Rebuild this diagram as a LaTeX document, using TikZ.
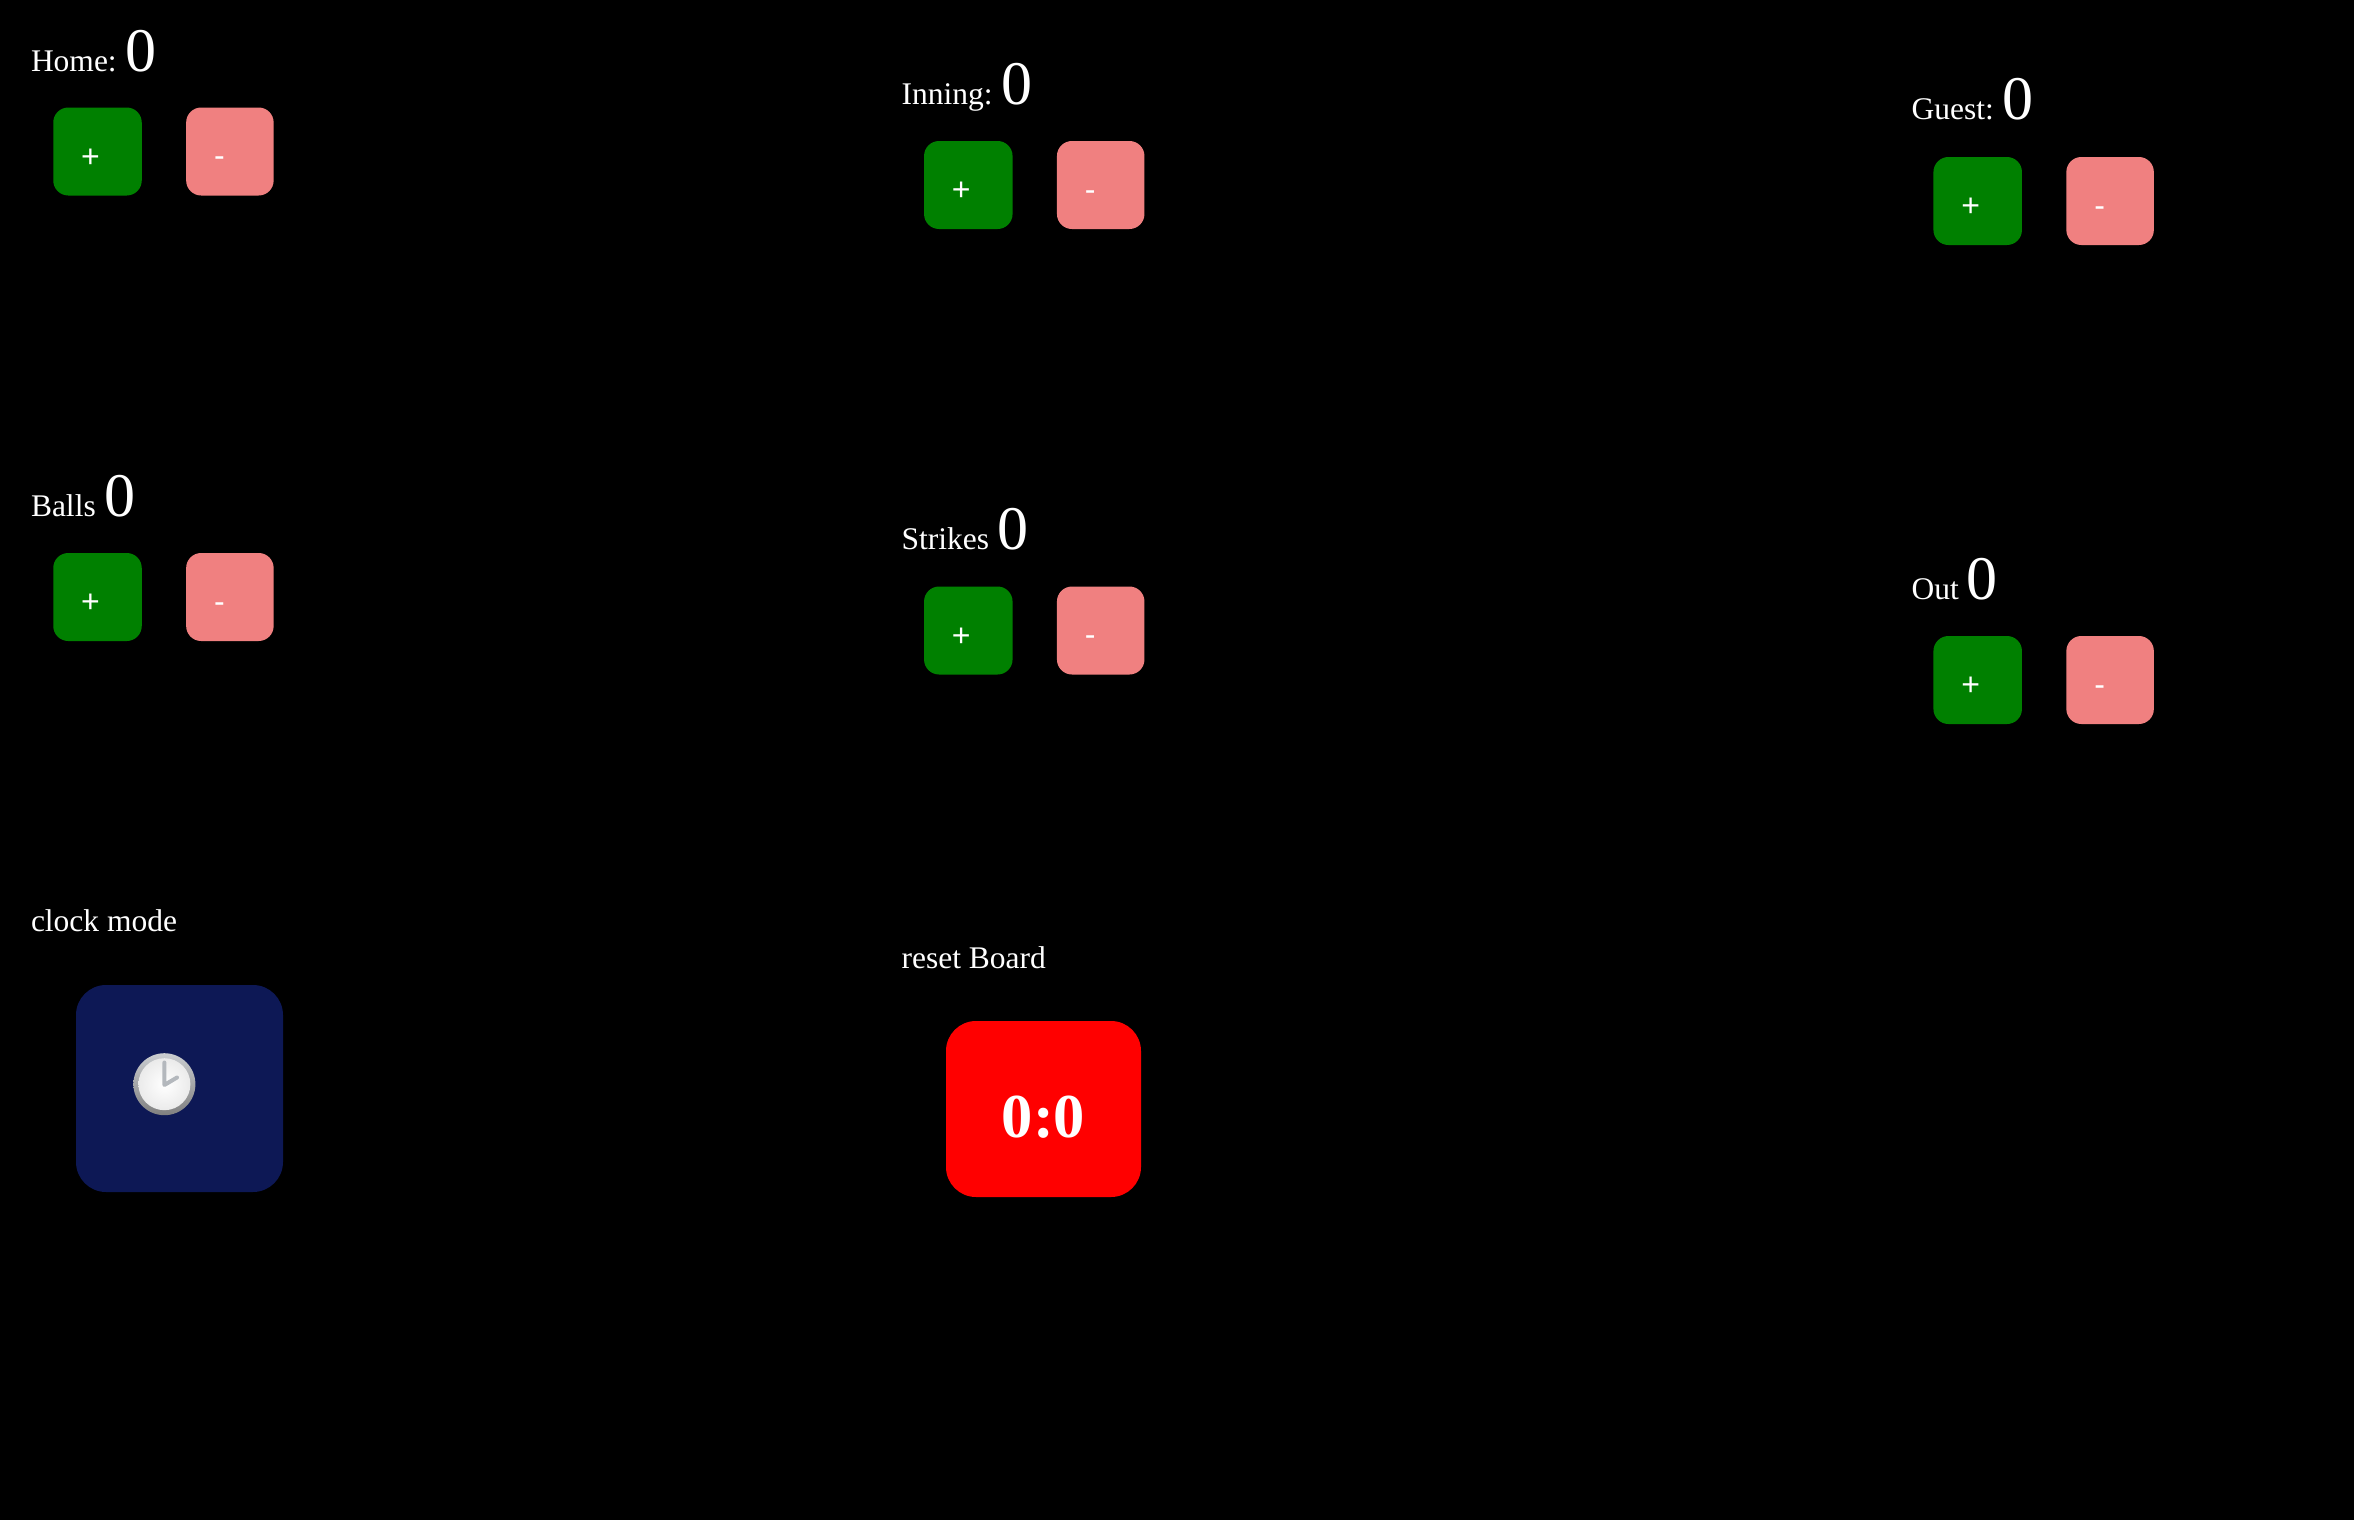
\documentclass[tikz,border=0pt]{standalone}
\usepackage{fontspec}
\setmainfont{Liberation Serif}
\newfontfamily\btnfont{Liberation Sans}
\usepackage{xcolor}
\usepackage{tikz}
\definecolor{plusgreen}{HTML}{008000}
\definecolor{minuspink}{HTML}{F08080}
\definecolor{clocknavy}{HTML}{0D1855}
\definecolor{handgray}{HTML}{B4B8BD}
\newcommand{\plustext}{\raisebox{-15.5pt}{+}\hspace{14pt}\mbox{}}
\newcommand{\minustext}{\raisebox{-15pt}{-}\hspace{21pt}\mbox{}}
\newcommand{\scorefont}{\fontsize{62}{62}\selectfont}

\begin{document}
\begin{tikzpicture}[x=1pt, y=-1pt]
        \tikzstyle{label} = [anchor=base west, inner sep=0pt, text=white, font=\fontsize{31.5}{31.5}\selectfont]
        \tikzstyle{btn} = [rectangle, inner sep=0pt, minimum width=88.5pt, minimum height=88pt, rounded corners=15pt, text=white, text height=0pt, text depth=0pt, font=\btnfont\fontsize{32}{32}\selectfont]
        \tikzstyle{plusbtn} = [btn, fill=plusgreen]
        \tikzstyle{minusbtn} = [btn, fill=minuspink, minimum width=87.5pt, right of=#1, node distance=132.4pt]

        \fill [black] (0, 0) rectangle (2354, 1520);

        \node [label] (homelabel) at (30.8, 71) {Home:\kern-2pt{} {\scorefont 0}};
        \node [plusbtn] (homeplus) at (97.5, 151.5) {\plustext};
        \node [minusbtn=homeplus] (homeminus) {\minustext};

        \node [label] (inninglabel) at (901.4, 104) {Inning:\kern-2pt{} {\scorefont 0}};
        \node [plusbtn] (inningplus) at (968.3, 185) {\plustext};
        \node [minusbtn=inningplus] (inningminus) {\minustext};

        \node [label] (guestlabel) at (1911.5, 119) {Guest:\kern-2pt{} {\scorefont 0}};
        \node [plusbtn] (guestplus) at (1977.7, 201) {\plustext};
        \node [minusbtn=guestplus] (guestminus) {\minustext};

        \node [label] (ballslabel) at (30.8, 516) {Balls\kern1pt{} {\scorefont 0}};
        \node [plusbtn] (ballsplus) at (97.5, 597) {\plustext};
        \node [minusbtn=ballsplus] (ballsminus) {\minustext};

        \node [label] (strikeslabel) at (901.4, 549) {Strikes\kern1pt{} {\scorefont 0}};
        \node [plusbtn] (strikesplus) at (968.3, 630.5) {\plustext};
        \node [minusbtn=strikesplus] (strikesminus) {\minustext};

        \node [label] (outlabel) at (1911.5, 599) {Out {\scorefont 0}};
        \node [plusbtn] (outplus) at (1977.7, 680) {\plustext};
        \node [minusbtn=outplus] (outminus) {\minustext};

        \node [label] (clocklabel) at (30.8, 931) {clock mode};
        \node [rectangle, minimum size=207pt, rounded corners=30pt, fill=clocknavy] (clockbtn) at (179.5, 1088.5) {};

        % clock face
        \node [circle, minimum size=62pt, inner sep=0pt, top color=handgray!70!white, bottom color=black!50!white] (clockrim) at (164.4, 1084.2) {};
        \node [circle, minimum size=52pt, inner sep=0pt, inner color=white, outer color=black!8!white] (clockface) at (clockrim) {};
        \draw [handgray, line width=4pt, line cap=round, line join=round] (164.4, 1062.5) -- (164.4, 1085) -- (177, 1077.5);

        \node [label] (resetlabel) at (901.4, 968) {reset Board};
        \node [rectangle, minimum width=195pt, minimum height=176pt, rounded corners=30pt, fill=red, text=white, text height=0pt, text depth=0pt, font=\bfseries\fontsize{62.5}{62.5}\selectfont] (resetbtn) at (1043.5, 1109) {\raisebox{-28pt}{0:0}};
    \end{tikzpicture}
\end{document}
